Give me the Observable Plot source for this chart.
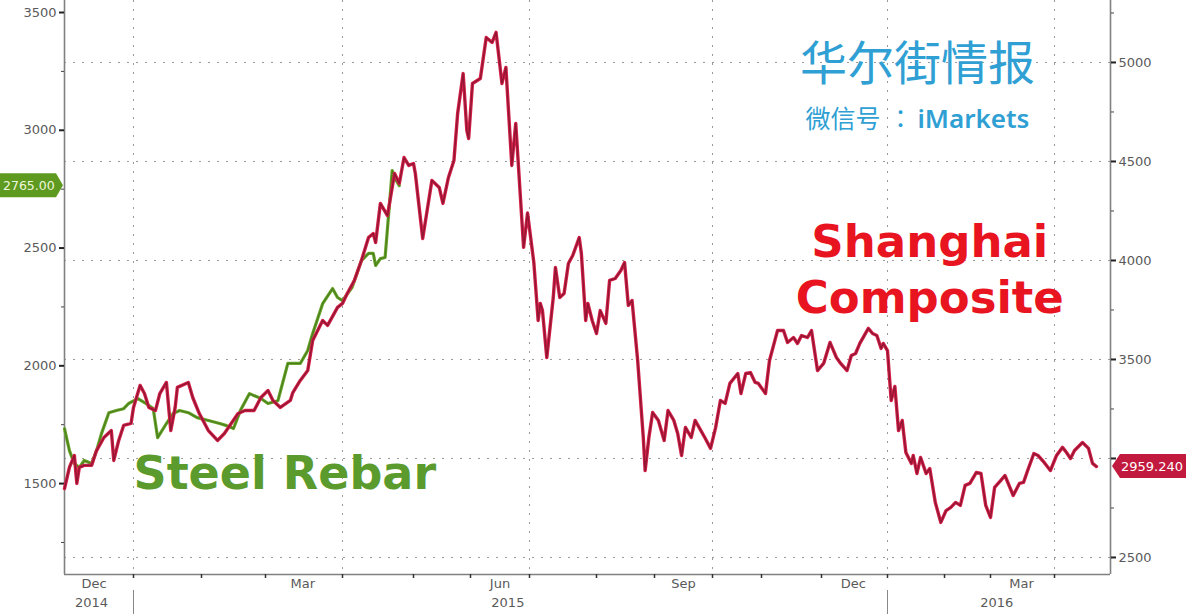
<!DOCTYPE html>
<html><head><meta charset="utf-8">
<script src="https://cdn.jsdelivr.net/npm/d3@7"></script>
<script src="https://cdn.jsdelivr.net/npm/@observablehq/plot@0.6"></script>
<style>
html,body{margin:0;padding:0;background:#fff;}
#chart{width:1186px;height:614px;overflow:hidden;}
</style></head><body><div id="chart"></div>
<script>
// Shanghai Composite (right axis)
const shDates = ["2014-12-04","2014-12-06","2014-12-08","2014-12-09","2014-12-10","2014-12-12","2014-12-15","2014-12-17","2014-12-20","2014-12-23","2014-12-24","2014-12-26","2014-12-28","2014-12-31",
"2015-01-01","2015-01-04","2015-01-06","2015-01-08","2015-01-11","2015-01-13","2015-01-16","2015-01-18","2015-01-20","2015-01-21","2015-01-26","2015-01-28","2015-01-31",
"2015-02-04","2015-02-08","2015-02-11","2015-02-14","2015-02-17","2015-02-20","2015-02-24","2015-02-27",
"2015-03-02","2015-03-04","2015-03-07","2015-03-11","2015-03-12","2015-03-15","2015-03-18","2015-03-20","2015-03-24","2015-03-26","2015-03-30",
"2015-04-01","2015-04-03","2015-04-06","2015-04-09","2015-04-12","2015-04-14","2015-04-15","2015-04-17","2015-04-20","2015-04-23","2015-04-25","2015-04-27","2015-04-29",
"2015-05-01","2015-05-02","2015-05-06","2015-05-11","2015-05-15","2015-05-17","2015-05-20","2015-05-23","2015-05-25","2015-05-28","2015-05-30","2015-05-31",
"2015-06-02","2015-06-06","2015-06-09","2015-06-12","2015-06-14","2015-06-17","2015-06-19","2015-06-22","2015-06-24","2015-06-28","2015-06-30",
"2015-07-03","2015-07-05","2015-07-06","2015-07-07","2015-07-09","2015-07-12","2015-07-13","2015-07-15","2015-07-17","2015-07-19","2015-07-21","2015-07-24","2015-07-25","2015-07-27","2015-07-28","2015-07-30",
"2015-08-01","2015-08-03","2015-08-06","2015-08-08","2015-08-11","2015-08-14","2015-08-16","2015-08-18","2015-08-20","2015-08-23","2015-08-26","2015-08-27","2015-08-29","2015-08-31",
"2015-09-03","2015-09-06","2015-09-08","2015-09-11","2015-09-13","2015-09-15","2015-09-17","2015-09-20","2015-09-22","2015-09-25","2015-09-27","2015-09-30",
"2015-10-03","2015-10-06","2015-10-09","2015-10-12","2015-10-17","2015-10-19","2015-10-22","2015-10-25","2015-10-28","2015-10-30",
"2015-11-03","2015-11-05","2015-11-09","2015-11-12","2015-11-14","2015-11-17","2015-11-19","2015-11-21","2015-11-24","2015-11-26","2015-11-29",
"2015-12-02","2015-12-05","2015-12-08","2015-12-10","2015-12-13","2015-12-15","2015-12-17","2015-12-19","2015-12-23","2015-12-25","2015-12-27","2015-12-29","2015-12-30",
"2016-01-01","2016-01-03","2016-01-05","2016-01-07","2016-01-09","2016-01-11","2016-01-14","2016-01-15","2016-01-17","2016-01-19","2016-01-22","2016-01-24","2016-01-27","2016-01-30",
"2016-02-02","2016-02-05","2016-02-08","2016-02-11","2016-02-14","2016-02-17","2016-02-21","2016-02-24","2016-02-27",
"2016-03-01","2016-03-03","2016-03-06","2016-03-08","2016-03-12","2016-03-15","2016-03-17","2016-03-19","2016-03-22","2016-03-24","2016-03-27","2016-03-30",
"2016-04-02","2016-04-05","2016-04-07","2016-04-09","2016-04-11","2016-04-15","2016-04-18","2016-04-20","2016-04-22"];
const shValues = [2848,2955,3015,2874,2955,2965,2965,3040,3106,3141,2990,3091,3167,3177,
3258,3369,3328,3258,3242,3328,3384,3141,3258,3359,3384,3308,3227,
3141,3091,3126,3177,3227,3242,3242,3308,
3343,3293,3258,3293,3333,3394,3444,3596,3697,3672,3763,
3783,3833,3899,4000,4116,4136,4091,4288,4227,4439,4389,4520,4480,
4490,4439,4111,4404,4369,4288,4419,4505,4742,4944,4657,4616,
4894,4919,5126,5101,5152,4894,4975,4480,4692,4066,4240,
3990,3697,3783,3747,3510,3813,3965,3813,3833,3985,4025,4116,4035,3697,3783,3697,
3631,3747,3682,3899,3909,3949,3990,3773,3798,3495,3106,2939,3106,3232,
3192,3091,3242,3192,3126,3015,3157,3106,3192,3141,3106,3051,
3157,3293,3278,3379,3429,3328,3429,3434,3384,3379,
3328,3495,3646,3646,3586,3611,3581,3621,3611,3646,3444,
3480,3586,3510,3480,3444,3520,3530,3581,3657,3631,3621,3556,3581,
3545,3293,3364,3141,3192,3030,2975,3015,2924,3005,2924,2949,2778,2677,
2737,2753,2778,2763,2864,2874,2929,2924,2763,
2702,2854,2889,2914,2813,2874,2879,2939,3025,3015,2980,2939,
3015,3056,3030,3000,3040,3081,3051,2975,2959.24];

// Steel Rebar (left axis)
const rebarDates = ["2014-12-04","2014-12-06","2014-12-08","2014-12-10","2014-12-12","2014-12-15","2014-12-17","2014-12-19","2014-12-22","2014-12-25","2014-12-28","2014-12-30",
"2015-01-03","2015-01-06","2015-01-10","2015-01-12","2015-01-16","2015-01-19","2015-01-22","2015-01-26","2015-01-30",
"2015-02-04","2015-02-09","2015-02-12","2015-02-15","2015-02-18","2015-02-22","2015-02-27",
"2015-03-02","2015-03-06","2015-03-10","2015-03-15","2015-03-18","2015-03-20","2015-03-24","2015-03-28","2015-03-30",
"2015-04-01","2015-04-05","2015-04-09","2015-04-12","2015-04-14","2015-04-15","2015-04-17","2015-04-19","2015-04-22","2015-04-23","2015-04-25"];
const rebarValues = [1733,1640,1585,1568,1598,1585,1640,1712,1801,1810,1818,1840,
1861,1844,1818,1695,1755,1797,1810,1801,1780,
1768,1755,1746,1734,1810,1882,1861,
1840,1852,2010,2010,2065,2137,2264,2328,2290,
2277,2332,2447,2477,2477,2426,2455,2460,2829,2799,2765];

const lastRebar = 2765.00;
const lastSh = 2959.24;

const monthTickDates = ["2015-01-01","2015-02-01","2015-03-01","2015-04-01","2015-05-01","2015-06-01","2015-07-01","2015-08-01","2015-09-01","2015-10-01","2015-11-01","2015-12-01","2016-01-01","2016-02-01","2016-03-01","2016-04-01"];
const quarterDates = ["2015-01-01","2015-04-01","2015-07-01","2015-10-01","2016-01-01","2016-04-01"];
const yearStartDates = ["2015-01-01","2016-01-01"];
const monthLabels = ["Dec","Mar","Jun","Sep","Dec","Mar"];
const monthLabelDates = ["2014-12-16","2015-03-16","2015-06-16","2015-09-16","2015-12-16","2016-03-16"];
const yearLabels = ["2014","2015","2016"];
const yearLabelDates = ["2014-12-15","2015-06-20","2016-03-04"];
const rightTicks = [2500,3000,3500,4000,4500,5000];
const rightMinor = [2750,3250,3750,4250,4750,5250];
const leftTicks = [1500,2000,2500,3000,3500];
const leftMinor = [1250,1750,2250,2750,3250];

// ---- scales / layout ----
const parse = d3.utcParse("%Y-%m-%d");
const rightDomain = [2414, 5313];
const leftDomain = [1114, 3551];
const toSH = v => rightDomain[0] + (v - leftDomain[0]) * (rightDomain[1] - rightDomain[0]) / (leftDomain[1] - leftDomain[0]);
const fromSH = s => leftDomain[0] + (s - rightDomain[0]) * (leftDomain[1] - leftDomain[0]) / (rightDomain[1] - rightDomain[0]);

// session-based (non-calendar) time axis, as in the terminal chart
const xAnchorDates = ["2014-12-04","2015-01-01","2015-02-01","2015-03-01","2015-04-01","2015-05-01","2015-06-01","2015-07-01","2015-08-01","2015-09-01","2015-10-01","2015-11-01","2015-12-01","2016-01-01","2016-02-01","2016-03-01","2016-04-01","2016-04-29"].map(parse);
const xAnchorRange = [64,133,201,265,342,413,470,529,596,654,712,761,821,887,944,990,1054,1110];

const sh = shDates.map((d, i) => ({date: parse(d), value: shValues[i]}));
const rebar = rebarDates.map((d, i) => ({date: parse(d), value: toSH(rebarValues[i])}));
const monthLab = monthLabelDates.map((d, i) => ({date: parse(d), text: monthLabels[i]}));
const yearLab = yearLabelDates.map((d, i) => ({date: parse(d), text: yearLabels[i]}));
const xStart = xAnchorDates[0], xEnd = xAnchorDates[xAnchorDates.length - 1];

const grid = {stroke: "#9a9a9a", strokeDasharray: "2,7", strokeWidth: 1};
const axisCol = "#5a5a5a";
const fmtInt = d3.format("d");

const plot = Plot.plot({
  width: 1186, height: 614,
  marginLeft: 64, marginRight: 76, marginTop: 0, marginBottom: 40,
  style: {fontFamily: "DejaVu Sans", fontSize: "13px", background: "#fff", overflow: "visible"},
  x: {type: "utc", domain: xAnchorDates, range: xAnchorRange},
  y: {domain: rightDomain},
  marks: [
    Plot.ruleY(rightTicks, grid),
    Plot.ruleX(quarterDates.map(parse), grid),
    Plot.ruleX(yearStartDates.map(parse), {stroke: "#888", strokeWidth: 1, insetTop: 590, insetBottom: -40}),
    // axis lines
    Plot.ruleX([xStart], {stroke: "#808080", strokeWidth: 1.6}),
    Plot.ruleX([xEnd], {stroke: "#808080", strokeWidth: 1.6}),
    Plot.ruleY([rightDomain[0]], {stroke: "#808080", strokeWidth: 1.6}),
    // right axis (the 3000 label sits under the last-value tag)
    Plot.axisY(rightTicks, {anchor: "right", tickSize: 5, tickPadding: 3, label: null, fill: axisCol, stroke: "#222", strokeWidth: 2, fontSize: 13,
      tickFormat: d => (Math.abs(d - lastSh) < 60 ? "" : fmtInt(d))}),
    Plot.axisY(rightMinor, {anchor: "right", tickSize: 3, tickFormat: () => "", label: null, stroke: "#444"}),
    // left axis (steel rebar units)
    Plot.axisY(leftTicks.map(toSH), {anchor: "left", tickSize: 5, tickPadding: 3, label: null, fill: axisCol, stroke: "#222", strokeWidth: 2, fontSize: 13,
      tickFormat: d => fmtInt(Math.round(fromSH(d)))}),
    Plot.axisY(leftMinor.map(toSH), {anchor: "left", tickSize: 3, tickFormat: () => "", label: null, stroke: "#444"}),
    // x axis
    Plot.axisX(monthTickDates.map(parse), {anchor: "bottom", tickSize: 4, tickFormat: () => "", label: null, stroke: "#333", strokeWidth: 1.5}),
    Plot.text(monthLab, {x: "date", text: "text", frameAnchor: "bottom", dy: 13, fill: axisCol, fontSize: 13}),
    Plot.text(yearLab, {x: "date", text: "text", frameAnchor: "bottom", dy: 32, fill: axisCol, fontSize: 13}),
    // series
    Plot.line(rebar, {x: "date", y: "value", stroke: "#6aa52b", strokeWidth: 3.2, strokeLinejoin: "round"}),
    Plot.line(rebar, {x: "date", y: "value", stroke: "#4b801c", strokeWidth: 1.3, strokeLinejoin: "round"}),
    Plot.line(sh, {x: "date", y: "value", stroke: "#d42048", strokeWidth: 3.4, strokeLinejoin: "round"}),
    Plot.line(sh, {x: "date", y: "value", stroke: "#921634", strokeWidth: 1.4, strokeLinejoin: "round"}),
    // annotations
    Plot.text(["Steel Rebar"], {x: parse("2015-01-01"), y: 2848, text: d => d, textAnchor: "start", lineAnchor: "bottom", fill: "#5b9a2c", fontSize: 46, fontWeight: "bold"}),
    Plot.text(["Shanghai"], {x: parse("2016-01-24"), y: 4020, text: d => d, textAnchor: "middle", lineAnchor: "bottom", fill: "#e8141f", fontSize: 45, fontWeight: "bold"}),
    Plot.text(["Composite"], {x: parse("2016-01-24"), y: 3737, text: d => d, textAnchor: "middle", lineAnchor: "bottom", fill: "#e8141f", fontSize: 45, fontWeight: "bold"}),
    Plot.text(["华尔街情报"], {frameAnchor: "top-left", dx: 853, dy: 79, text: d => d, textAnchor: "middle", lineAnchor: "bottom", fill: "#2f9fd4", fontSize: 47, fontFamily: "Noto Sans CJK SC"}),
    Plot.text(["微信号"], {frameAnchor: "top-left", dx: 741, dy: 127, text: d => d, textAnchor: "start", lineAnchor: "bottom", fill: "#2f9fd4", fontSize: 25, fontFamily: "Noto Sans CJK SC"}),
    Plot.text(["："], {frameAnchor: "top-left", dx: 836, dy: 127, text: d => d, textAnchor: "middle", lineAnchor: "bottom", fill: "#2f9fd4", fontSize: 25, fontFamily: "Noto Sans CJK JP"}),
    Plot.text(["iMarkets"], {frameAnchor: "top-left", dx: 853, dy: 127, text: d => d, textAnchor: "start", lineAnchor: "bottom", fill: "#2f9fd4", fontSize: 26, fontWeight: 600, fontFamily: "Noto Sans"})
  ]
});

document.getElementById("chart").append(plot);

// last-value tags placed through the plot's own y scale
const yS = plot.scale("y");
const svg = d3.select(plot);
const gy = yS.apply(toSH(lastRebar));
const ry = yS.apply(lastSh);
const tags = svg.append("g").attr("text-anchor", "start");
tags.append("path")
  .attr("d", `M0,${gy - 12}H56L63,${gy}L56,${gy + 12}H0Z`)
  .attr("fill", "#5e9a1f");
tags.append("text").attr("x", 3).attr("y", gy).attr("dy", "0.35em").attr("text-anchor", "start")
  .attr("fill", "#eef6dc").attr("font-size", 12.5).attr("font-family", "DejaVu Sans")
  .text(d3.format(".2f")(lastRebar));
tags.append("path")
  .attr("d", `M1112,${ry}L1120,${ry - 12}H1186V${ry + 12}H1120Z`)
  .attr("fill", "#c21a3e");
tags.append("text").attr("x", 1121).attr("y", ry).attr("dy", "0.35em").attr("text-anchor", "start")
  .attr("fill", "#fff").attr("font-size", 13).attr("font-family", "DejaVu Sans")
  .text(d3.format(".3f")(lastSh));
</script>
</body></html>
